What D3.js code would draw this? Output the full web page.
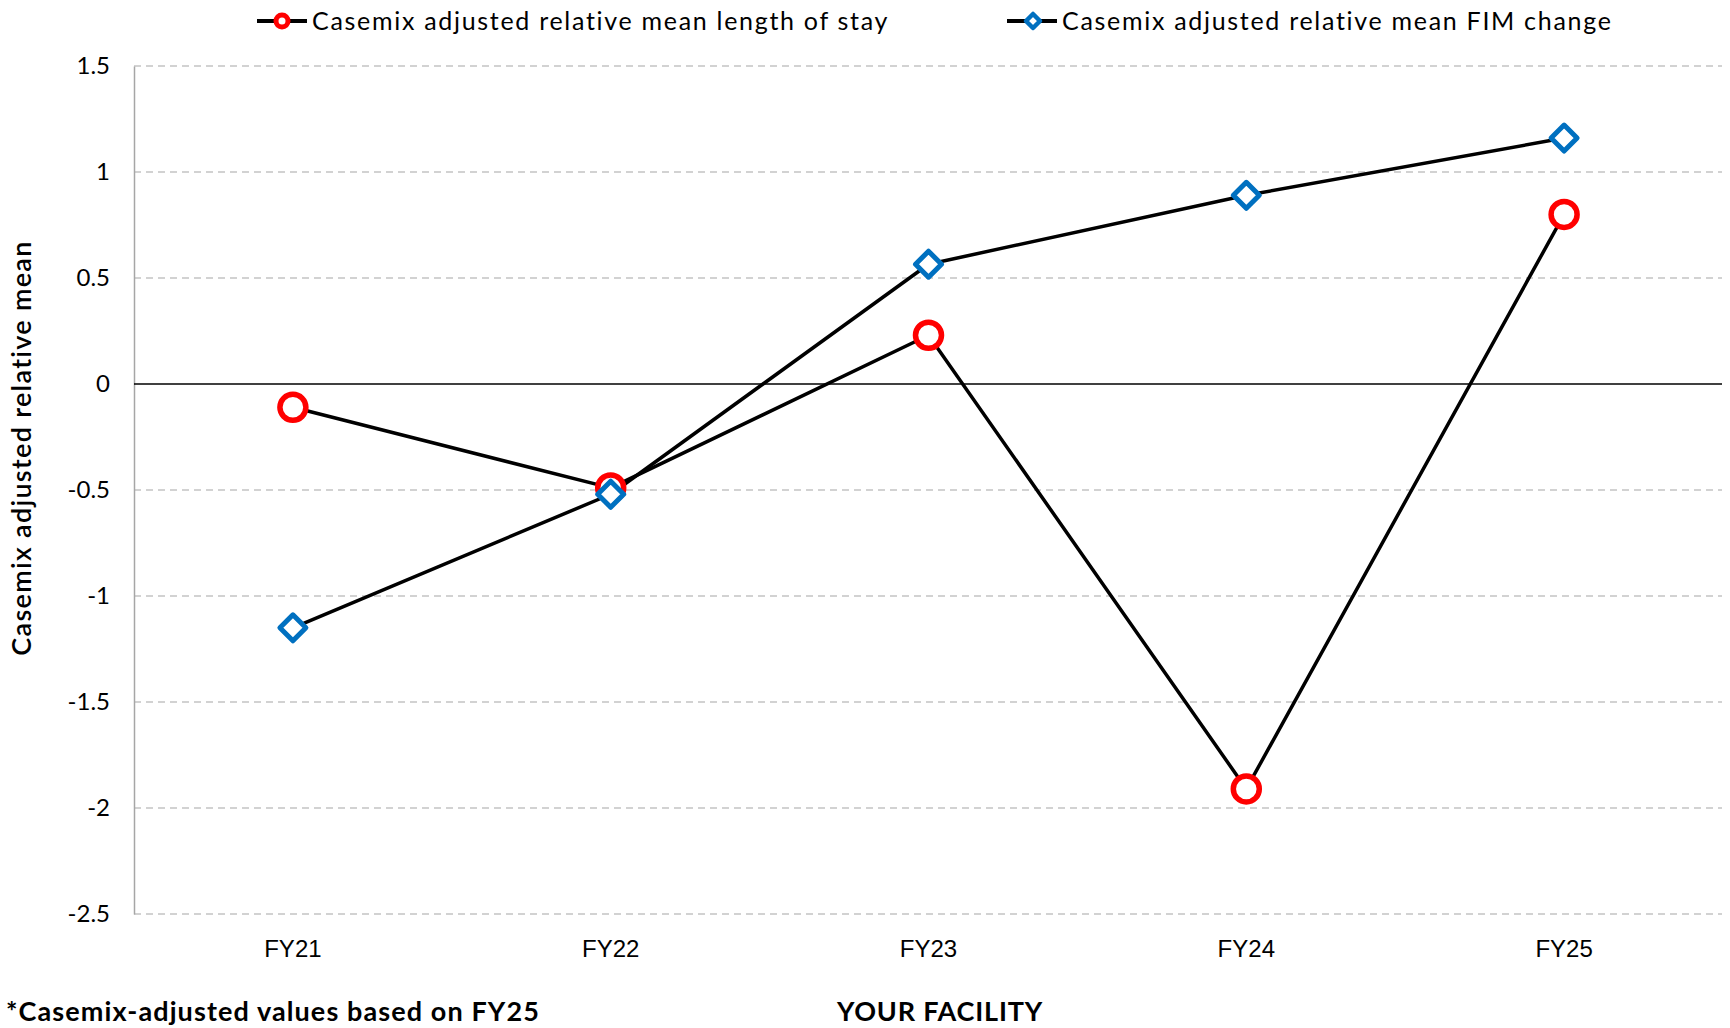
<!DOCTYPE html>
<html>
<head>
<meta charset="utf-8">
<script src="https://cdn.jsdelivr.net/npm/d3@7"></script>
<style>
  html, body { margin: 0; padding: 0; background: #fff; }
  svg { display: block; font-family: Lato, "Open Sans", sans-serif; }
</style>
</head>
<body>
<svg id="chart" width="1730" height="1028"></svg>
<script>
// Fiscal years on the x axis
const years = ["FY21", "FY22", "FY23", "FY24", "FY25"];
// Casemix adjusted relative mean length of stay
const losValues = [-0.11, -0.49, 0.23, -1.91, 0.80];
// Casemix adjusted relative mean FIM change
const fimValues = [-1.15, -0.52, 0.565, 0.89, 1.16];
// Y axis tick values
const yTicks = [1.5, 1, 0.5, 0, -0.5, -1, -1.5, -2, -2.5];

const seriesNames = [
  "Casemix adjusted relative mean length of stay",
  "Casemix adjusted relative mean FIM change"
];

const svg = d3.select("#chart");
const plot = { left: 134, right: 1723, top: 66, bottom: 914 };

const x = d3.scaleBand().domain(years).range([plot.left, plot.right]).padding(0);
const y = d3.scaleLinear().domain([-2.5, 1.5]).range([plot.bottom, plot.top]);
const cx = d => x(d) + x.bandwidth() / 2;

// Dashed horizontal gridlines
svg.append("g").selectAll("line")
  .data(yTicks.filter(t => t !== 0))
  .join("line")
  .attr("x1", plot.left).attr("x2", plot.right - 1)
  .attr("y1", d => y(d)).attr("y2", d => y(d))
  .attr("stroke", "#c4c4c4").attr("stroke-width", 1.5)
  .attr("stroke-dasharray", "7,5");

// Y axis line and tick labels
const yAxis = d3.axisLeft(y).tickValues(yTicks).tickSize(0).tickPadding(24)
  .tickFormat(d => String(d));
const yg = svg.append("g").attr("transform", `translate(${plot.left},0)`).call(yAxis);
yg.select(".domain").attr("stroke", "#a6a6a6").attr("stroke-width", 1.5);
yg.selectAll("text").attr("font-size", 24).attr("fill", "#000")
  .attr("font-family", "Lato, sans-serif");

// Zero baseline
svg.append("line")
  .attr("x1", plot.left).attr("x2", plot.right - 1)
  .attr("y1", y(0)).attr("y2", y(0))
  .attr("stroke", "#000").attr("stroke-width", 1.5);

// X axis labels
const xAxis = d3.axisBottom(x).tickSize(0).tickPadding(26);
const xg = svg.append("g").attr("transform", `translate(0,${plot.bottom})`).call(xAxis);
xg.select(".domain").remove();
xg.selectAll("text").attr("font-size", 24).attr("fill", "#000")
  .attr("font-family", "'Liberation Sans Narrow', 'Liberation Sans', sans-serif");

const line = d3.line().x((d, i) => cx(years[i])).y(d => y(d));

// Series lines
svg.append("path").datum(losValues).attr("d", line)
  .attr("fill", "none").attr("stroke", "#000").attr("stroke-width", 3.5)
  .attr("stroke-linejoin", "round");
svg.append("path").datum(fimValues).attr("d", line)
  .attr("fill", "none").attr("stroke", "#000").attr("stroke-width", 3.5)
  .attr("stroke-linejoin", "round");

// Length of stay markers: hollow red circles
svg.append("g").selectAll("circle").data(losValues).join("circle")
  .attr("cx", (d, i) => cx(years[i])).attr("cy", d => y(d)).attr("r", 13)
  .attr("fill", "#fff").attr("stroke", "#ff0000").attr("stroke-width", 5.5);

// FIM change markers: hollow blue diamonds
const diamond = s => `M0,${-s}L${s},0L0,${s}L${-s},0Z`;
svg.append("g").selectAll("path").data(fimValues).join("path")
  .attr("transform", (d, i) => `translate(${cx(years[i])},${y(d)})`)
  .attr("d", diamond(13))
  .attr("fill", "#fff").attr("stroke", "#0070c0").attr("stroke-width", 5)
  .attr("stroke-linejoin", "round");

// Legend
const legend = svg.append("g").attr("font-size", 25).attr("letter-spacing", 1.7)
  .attr("fill", "#000");
const legendItems = [
  { x: 257, textX: 312, kind: "circle" },
  { x: 1007, textX: 1062, kind: "diamond" }
];
legendItems.forEach((item, i) => {
  const g = legend.append("g");
  g.append("line").attr("x1", item.x).attr("x2", item.x + 50)
    .attr("y1", 21).attr("y2", 21).attr("stroke", "#000").attr("stroke-width", 4);
  if (item.kind === "circle") {
    g.append("circle").attr("cx", item.x + 25).attr("cy", 21).attr("r", 6)
      .attr("fill", "#fff").attr("stroke", "#ff0000").attr("stroke-width", 5);
  } else {
    g.append("path").attr("transform", `translate(${item.x + 26},21)`)
      .attr("d", diamond(7)).attr("fill", "#fff").attr("stroke", "#0070c0")
      .attr("stroke-width", 4.5).attr("stroke-linejoin", "round");
  }
  g.append("text").attr("x", item.textX).attr("y", 21).attr("dy", "0.35em")
    .text(seriesNames[i]);
});

// Y axis title
svg.append("text")
  .attr("transform", `translate(22,448) rotate(-90)`)
  .attr("text-anchor", "middle").attr("dy", "0.35em")
  .attr("font-size", 27).attr("font-weight", 600).attr("letter-spacing", 1.3)
  .text("Casemix adjusted relative mean");

// Footnote and facility caption
svg.append("text").attr("x", 6).attr("y", 1012).attr("dy", "0.35em")
  .attr("font-size", 27).attr("font-weight", 700).attr("letter-spacing", 1.1)
  .text("*Casemix-adjusted values based on FY25");
svg.append("text").attr("x", 940).attr("y", 1012).attr("dy", "0.35em")
  .attr("text-anchor", "middle").attr("font-size", 27).attr("font-weight", 700)
  .attr("letter-spacing", 0.8)
  .text("YOUR FACILITY");
</script>
</body>
</html>
